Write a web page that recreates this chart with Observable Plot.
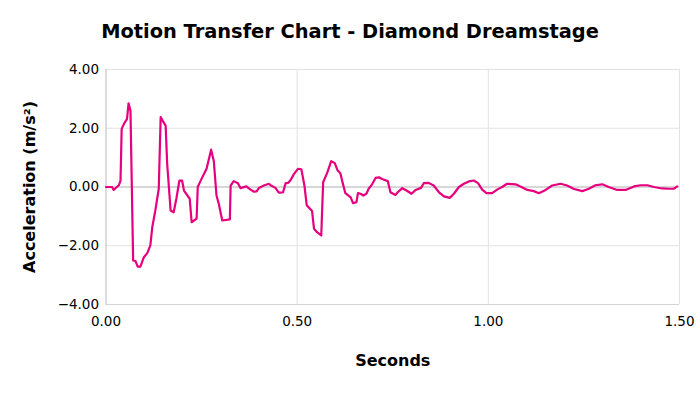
<!DOCTYPE html>
<html>
<head>
<meta charset="utf-8">
<script src="https://cdn.jsdelivr.net/npm/d3@7"></script>
<script src="https://cdn.jsdelivr.net/npm/@observablehq/plot@0.6"></script>
<style>
  body { margin: 0; background: #fff; width: 700px; height: 394px; overflow: hidden; }
  #title { height: 55px; box-sizing: border-box; padding-top: 22px; line-height: 20px;
           text-align: center; font-family: "DejaVu Sans", sans-serif; font-weight: bold;
           font-size: 19.4px; color: #000; }
  #chart svg { display: block; }
</style>
</head>
<body>
<div id="title">Motion Transfer Chart - Diamond Dreamstage</div>
<div id="chart"></div>
<script>
const seconds = [
  0.000, 0.016, 0.020, 0.034, 0.038, 0.041, 0.047, 0.055, 0.059, 0.064,
  0.071, 0.077, 0.083, 0.090, 0.099, 0.108, 0.116, 0.121, 0.129, 0.138,
  0.143, 0.148, 0.156, 0.160, 0.169, 0.177, 0.184, 0.192, 0.199, 0.204,
  0.219, 0.224, 0.237, 0.240, 0.247, 0.263, 0.275, 0.282, 0.289, 0.295,
  0.304, 0.324, 0.326, 0.334, 0.345, 0.352, 0.367, 0.378, 0.387, 0.394,
  0.400, 0.413, 0.426, 0.433, 0.443, 0.452, 0.463, 0.470, 0.476, 0.483,
  0.491, 0.502, 0.511, 0.519, 0.525, 0.539, 0.544, 0.552, 0.563, 0.568,
  0.579, 0.589, 0.598, 0.606, 0.613, 0.619, 0.626, 0.640, 0.646, 0.655,
  0.659, 0.666, 0.673, 0.681, 0.687, 0.696, 0.705, 0.714, 0.722, 0.737,
  0.744, 0.757, 0.763, 0.775, 0.786, 0.799, 0.810, 0.824, 0.831, 0.844,
  0.857, 0.871, 0.884, 0.899, 0.910, 0.923, 0.936, 0.949, 0.962, 0.973,
  0.984, 0.995, 1.010, 1.023, 1.036, 1.049, 1.071, 1.084, 1.102, 1.119,
  1.132, 1.150, 1.167, 1.189, 1.206, 1.224, 1.246, 1.263, 1.280, 1.298,
  1.315, 1.337, 1.359, 1.381, 1.398, 1.416, 1.433, 1.455, 1.472, 1.485,
  1.494
];
const acceleration = [
  0.00, 0.00, -0.10, 0.07, 0.22, 1.98, 2.15, 2.32, 2.85, 2.60,
  -2.50, -2.52, -2.71, -2.71, -2.39, -2.25, -1.99, -1.37, -0.80, -0.06,
  2.38, 2.26, 2.09, 0.79, -0.80, -0.86, -0.40, 0.22, 0.22, -0.12,
  -0.40, -1.20, -1.08, 0.00, 0.20, 0.62, 1.27, 0.88, -0.29, -0.57,
  -1.14, -1.10, 0.05, 0.20, 0.13, -0.04, 0.02, -0.09, -0.16, -0.15,
  -0.03, 0.05, 0.11, 0.04, -0.03, -0.19, -0.18, 0.13, 0.14, 0.24,
  0.43, 0.62, 0.60, 0.05, -0.62, -0.82, -1.42, -1.54, -1.65, 0.16,
  0.50, 0.88, 0.82, 0.56, 0.47, 0.14, -0.21, -0.35, -0.55, -0.52,
  -0.21, -0.23, -0.29, -0.23, -0.06, 0.09, 0.31, 0.33, 0.27, 0.20,
  -0.18, -0.27, -0.18, -0.04, -0.12, -0.23, -0.10, -0.03, 0.13, 0.14,
  0.05, -0.18, -0.32, -0.37, -0.23, 0.00, 0.11, 0.19, 0.22, 0.13,
  -0.09, -0.21, -0.21, -0.09, 0.00, 0.11, 0.09, 0.02, -0.10, -0.14,
  -0.21, -0.10, 0.05, 0.11, 0.05, -0.07, -0.14, -0.06, 0.06, 0.09,
  0.00, -0.10, -0.10, 0.02, 0.06, 0.06, 0.00, -0.05, -0.06, -0.06,
  0.02
];
const xTicks = [0, 0.5, 1.0, 1.5];
const yTicks = [-4, -2, 0, 2, 4];
const xLabel = "Seconds";
const yLabel = "Acceleration (m/s²)";

const data = seconds.map((s, i) => ({s, a: acceleration[i]}));
const fmt = d3.format(".2f");

const chart = Plot.plot({
  width: 700,
  height: 339,
  marginTop: 14,
  marginBottom: 90,
  marginLeft: 105.5,
  marginRight: 21,
  style: {fontFamily: "DejaVu Sans, sans-serif", fontSize: "13.5px", color: "#000", background: "#fff"},
  x: {domain: [0, 1.5]},
  y: {domain: [-4, 4]},
  marks: [
    Plot.gridX(xTicks, {stroke: "#e2e2e2", strokeOpacity: 1}),
    Plot.gridY(yTicks, {stroke: "#e2e2e2", strokeOpacity: 1}),
    Plot.ruleY([0], {stroke: "#bdbdbd"}),
    Plot.ruleY([-4], {stroke: "#d4d4d4"}),
    Plot.ruleX([0], {stroke: "#c4c4c4"}),
    Plot.axisX(xTicks, {tickSize: 0, tickPadding: 12, tickFormat: fmt, label: null, fill: "#000"}),
    Plot.axisY(yTicks, {tickSize: 0, tickPadding: 7, tickFormat: fmt, label: null, fill: "#000"}),
    Plot.line(data, {x: "s", y: "a", stroke: "#e6007e", strokeWidth: 2.2, curve: "linear"}),
    Plot.text([yLabel], {frameAnchor: "left", dx: -76, rotate: -90, textAnchor: "middle",
      text: d => d, fontWeight: "bold", fontSize: 16, fill: "#000"}),
    Plot.text([xLabel], {frameAnchor: "bottom", dy: 61, text: d => d,
      fontWeight: "bold", fontSize: 16, fill: "#000"})
  ]
});
document.getElementById("chart").appendChild(chart);
</script>
</body>
</html>
